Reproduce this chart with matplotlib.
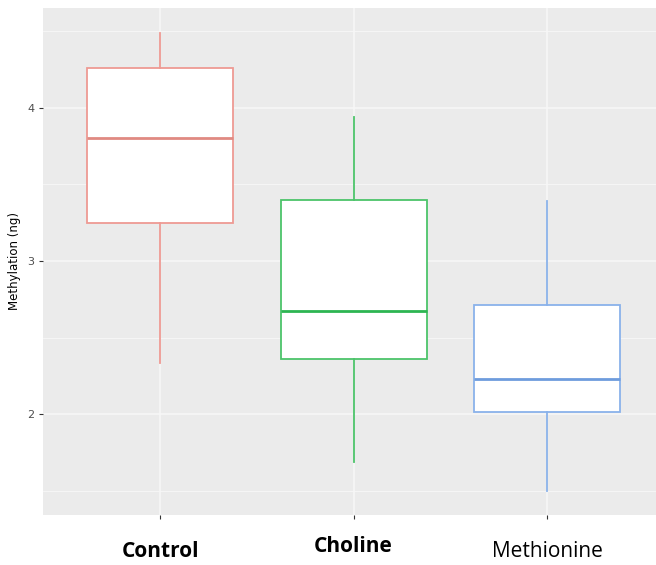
import matplotlib
matplotlib.use("Agg")
import matplotlib.pyplot as plt
from matplotlib.transforms import blended_transform_factory, ScaledTranslation

categories = ["Control", "Choline", "Methionine"]
whisker_low = [2.335, 1.69, 1.50]
q1 = [3.248, 2.36, 2.015]
medians = [3.80, 2.674, 2.23]
q3 = [4.26, 3.40, 2.713]
whisker_high = [4.487, 3.94, 3.39]
colors = ["#EE9A93", "#4CC46A", "#8AB2EA"]
median_colors = ["#E08A82", "#2DB552", "#6E9CDD"]
label_weights = ["bold", "bold", "normal"]
label_dy = [0, 5, 0]
y_ticks = [2, 3, 4]
y_minor = [1.5, 2.5, 3.5, 4.5]

fig = plt.figure(figsize=(6.56, 5.65), dpi=100)
ax = fig.add_axes([43/656, 50/565, 613/656, 507/565])
ax.set_facecolor("#EBEBEB")
for s in ax.spines.values():
    s.set_visible(False)

stats = []
for i, c in enumerate(categories):
    stats.append(dict(label=c, whislo=whisker_low[i], q1=q1[i], med=medians[i],
                      q3=q3[i], whishi=whisker_high[i], fliers=[]))
positions = list(range(1, len(categories) + 1))
for i in range(len(categories)):
    ax.bxp([stats[i]], positions=[positions[i]], widths=0.755, patch_artist=True,
           showcaps=False, showfliers=False,
           boxprops=dict(facecolor="white", edgecolor=colors[i], linewidth=1.3),
           whiskerprops=dict(color=colors[i], linewidth=1.3),
           medianprops=dict(color=median_colors[i], linewidth=2.0),
           zorder=3)

ax.set_xlim(0.395, 3.563)
ax.set_ylim(1.343, 4.650)
ax.set_yticks(y_ticks)
ax.set_yticks(y_minor, minor=True)
ax.set_xticks(positions)
ax.set_xticklabels([""] * len(categories))
ax.grid(True, which="major", color="#F7F7F7", linewidth=1.1, zorder=0)
ax.grid(True, which="minor", axis="y", color="#F7F7F7", linewidth=0.6, zorder=0)
ax.set_axisbelow(True)
ax.tick_params(axis="both", which="major", length=3, color="#333333", width=0.8,
               labelsize=8, labelcolor="#4D4D4D", pad=3)
ax.tick_params(axis="y", which="minor", length=0)
ax.set_ylabel("Methylation (ng)", fontsize=8.5, color="black", labelpad=5)

trans = blended_transform_factory(ax.transData, ax.transAxes)
for i, c in enumerate(categories):
    t = trans + ScaledTranslation(0, label_dy[i] / 100, fig.dpi_scale_trans)
    ax.text(positions[i], -0.052, c, transform=t, ha="center", va="top",
            fontsize=15, fontweight=label_weights[i], family="Open Sans",
            color="black")

fig.savefig("out.png", dpi=100)
